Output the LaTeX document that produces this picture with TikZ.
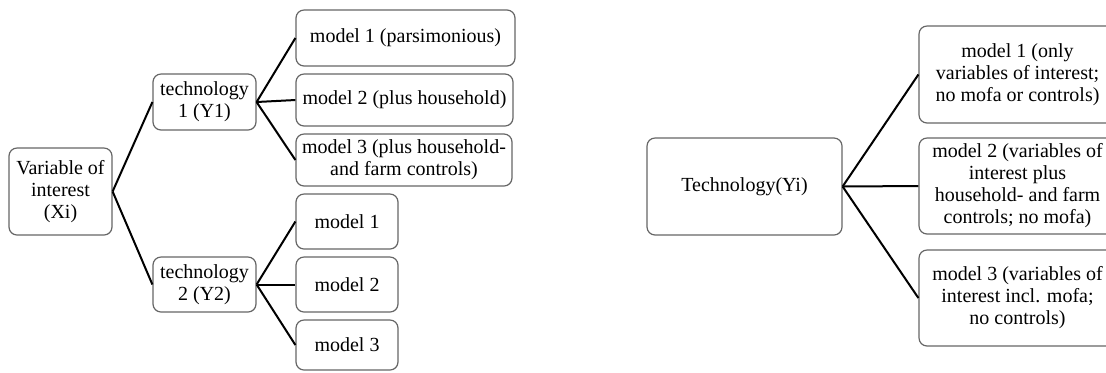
\documentclass[tikz,border=0pt]{standalone}
\usepackage{fontspec}
\setmainfont{Liberation Serif}
\begin{document}
\begin{tikzpicture}[x=0.5pt,y=-0.5pt,
  box/.style={draw=black!60, line width=0.6pt, rounded corners=4pt, fill=white,
    align=center, inner sep=0pt, font=\fontsize{10}{11}\selectfont},
  link/.style={line width=1pt, black}]
\clip (0,0) rectangle (1106,372);
\useasboundingbox (0,0) rectangle (1106,372);

% left tree: variable of interest -> technologies -> models
\node[box, minimum width=51.5pt, minimum height=43.5pt] (x) at (60.5,191.5) {Variable of\\interest\\(Xi)};
\node[box, minimum width=51.5pt, minimum height=28pt] (t1) at (204.5,102) {technology\\1 (Y1)};
\node[box, minimum width=51.5pt, minimum height=27.5pt] (t2) at (204.5,284.5) {technology\\2 (Y2)};

\node[box, minimum width=109.5pt, minimum height=28pt] (a1) at (405.5,38) {model 1 (parsimonious)};
\node[box, minimum width=108.5pt, minimum height=26pt] (a2) at (404.5,100) {model 2 (plus household)};
\node[box, minimum width=108pt, minimum height=26pt] (a3) at (404,160) {model 3 (plus household-\\and farm controls)};

\node[box, minimum width=51pt, minimum height=27.5pt] (b1) at (347,221.5) {model 1};
\node[box, minimum width=51pt, minimum height=27.5pt] (b2) at (347,284.5) {model 2};
\node[box, minimum width=51pt, minimum height=25pt] (b3) at (347,345) {model 3};

\draw[link] (x.east) -- (t1.west);
\draw[link] (x.east) -- (t2.west);
\draw[link] (t1.east) -- (a1.west);
\draw[link] (t1.east) -- (a2.west);
\draw[link] (t1.east) -- (a3.west);
\draw[link] (t2.east) -- (b1.west);
\draw[link] (t2.east) -- (b2.west);
\draw[link] (t2.east) -- (b3.west);

% right tree: technology -> models
\node[box, minimum width=97.5pt, minimum height=48.5pt] (t) at (744.5,186.5) {Technology(Yi)};
\node[box, minimum width=98.5pt, minimum height=48.5pt] (r1) at (1017.5,74.5) {model 1 (only\\variables of interest;\\no mofa or controls)};
\node[box, minimum width=98.5pt, minimum height=48pt] (r2) at (1017.5,186) {model 2 (variables of\\interest plus\\household- and farm\\controls; no mofa)};
\node[box, minimum width=98.5pt, minimum height=48pt] (r3) at (1017.5,298) {model 3 (variables of\\interest incl. mofa;\\no controls)};

\draw[link] (t.east) -- (r1.west);
\draw[link] (t.east) -- (r2.west);
\draw[link] (t.east) -- (r3.west);
\end{tikzpicture}
\end{document}
